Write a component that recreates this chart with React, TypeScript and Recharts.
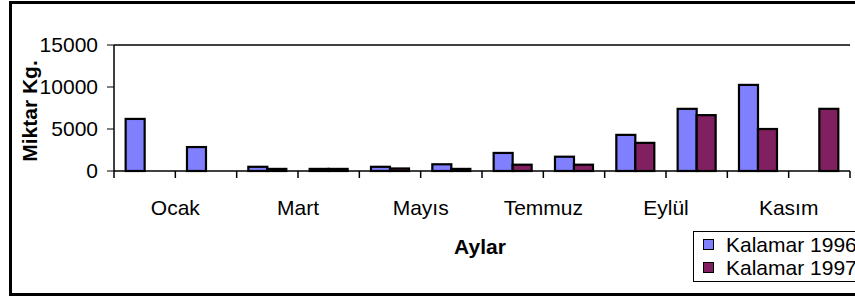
import React from "react";
import {
  BarChart,
  Bar,
  XAxis,
  YAxis,
  ReferenceLine,
} from "recharts";

const MONTHS = [
  "Ocak",
  "Şubat",
  "Mart",
  "Nisan",
  "Mayıs",
  "Haziran",
  "Temmuz",
  "Ağustos",
  "Eylül",
  "Ekim",
  "Kasım",
  "Aralık",
];

const KALAMAR_1996: (number | null)[] = [6200, 2850, 500, 250, 500, 800, 2150, 1700, 4300, 7400, 10250, null];
const KALAMAR_1997: (number | null)[] = [null, null, 250, 250, 300, 250, 750, 750, 3350, 6650, 5000, 7400];

const Y_TICKS = [0, 5000, 10000, 15000];

const FONT = "'Liberation Sans', Arial, sans-serif";
const FS = 21;
const BLUE = "#8080ff";
const PURPLE = "#802060";

const data = MONTHS.map((m, i) => ({
  month: m,
  k1996: KALAMAR_1996[i],
  k1997: KALAMAR_1997[i],
}));

const PLOT_LEFT = 114;
const PLOT_RIGHT = 850;
const PLOT_BOTTOM = 171;
const BAND = (PLOT_RIGHT - PLOT_LEFT) / MONTHS.length;

// Excel style: tick marks on category boundaries, every other label shifted half a band right
function MonthTick(props: any) {
  const { x, index, payload } = props;
  const left = x - BAND / 2;
  return (
    <g>
      <line x1={left} y1={PLOT_BOTTOM} x2={left} y2={PLOT_BOTTOM + 7} stroke="#000" strokeWidth={1.5} />
      {index === MONTHS.length - 1 && (
        <line x1={x + BAND / 2} y1={PLOT_BOTTOM} x2={x + BAND / 2} y2={PLOT_BOTTOM + 7} stroke="#000" strokeWidth={1.5} />
      )}
      {index % 2 === 0 && (
        <text
          x={x + BAND / 2}
          y={215}
          textAnchor="middle"
          fontSize={FS}
          fontFamily={FONT}
          fill="#000"
        >
          {payload.value}
        </text>
      )}
    </g>
  );
}

function OutlinedBar(props: any) {
  const { x, y, width, height, fill } = props;
  if (height == null || width == null || !(height > 0)) return null;
  return (
    <rect
      x={x}
      y={y}
      width={width}
      height={Math.max(height, 1)}
      fill={fill}
      stroke="#000"
      strokeWidth={2.2}
    />
  );
}

function LegendBox() {
  const items = [
    { label: "Kalamar 1996", color: BLUE },
    { label: "Kalamar 1997", color: PURPLE },
  ];
  return (
    <div
      style={{
        position: "absolute",
        left: 693,
        top: 231,
        width: 220,
        height: 51,
        border: "1px solid #000",
        background: "#fff",
        fontFamily: FONT,
        fontSize: FS,
        paddingTop: 1,
        boxSizing: "border-box",
      }}
    >
      {items.map((it) => (
        <div key={it.label} style={{ display: "flex", alignItems: "center", height: 23, whiteSpace: "nowrap" }}>
          <span
            style={{
              display: "inline-block",
              width: 9,
              height: 9,
              marginLeft: 9,
              marginRight: 12,
              background: it.color,
              border: "1px solid #000",
            }}
          />
          <span>{it.label}</span>
        </div>
      ))}
    </div>
  );
}

export default function App() {
  return (
    <div style={{ position: "absolute", left: 0, top: 0, width: 855, height: 298, overflow: "hidden", background: "#fff" }}>
      <div
        style={{
          position: "absolute",
          left: 9,
          top: 1,
          width: 900,
          height: 295,
          border: "3px solid #000",
          boxSizing: "border-box",
        }}
      />
      <div style={{ position: "absolute", left: 0, top: 0 }}>
        <BarChart
          width={855}
          height={298}
          data={data}
          margin={{ top: 45, right: 5, bottom: 97, left: 54 }}
          barCategoryGap="19%"
          barGap={0}
        >
          <XAxis
            dataKey="month"
            interval={0}
            height={30}
            tickLine={false}
            axisLine={{ stroke: "#000", strokeWidth: 1.5 }}
            tick={<MonthTick />}
          />
          <YAxis
            domain={[0, 15000]}
            ticks={Y_TICKS}
            width={60}
            tickSize={7}
            tickMargin={9}
            tickLine={{ stroke: "#000" }}
            axisLine={{ stroke: "#000", strokeWidth: 1.5 }}
            tick={{ fontSize: FS, fontFamily: FONT, fill: "#000" }}
          />
          <YAxis
            yAxisId="right"
            orientation="right"
            width={0}
            tick={false}
            tickLine={false}
            axisLine={{ stroke: "#000", strokeWidth: 1.5 }}
          />
          <ReferenceLine y={15000} stroke="#000" strokeWidth={1.5} />
          <Bar dataKey="k1996" name="Kalamar 1996" fill={BLUE} shape={<OutlinedBar />} isAnimationActive={false} />
          <Bar dataKey="k1997" name="Kalamar 1997" fill={PURPLE} shape={<OutlinedBar />} isAnimationActive={false} />
        </BarChart>
      </div>
      <div
        style={{
          position: "absolute",
          left: 30,
          top: 111,
          transform: "translate(-50%, -50%) rotate(-90deg)",
          fontFamily: FONT,
          fontWeight: "bold",
          fontSize: FS,
          whiteSpace: "nowrap",
        }}
      >
        Miktar Kg.
      </div>
      <div
        style={{
          position: "absolute",
          left: 480,
          top: 247,
          transform: "translate(-50%, -50%)",
          fontFamily: FONT,
          fontWeight: "bold",
          fontSize: FS,
        }}
      >
        Aylar
      </div>
      <LegendBox />
    </div>
  );
}
